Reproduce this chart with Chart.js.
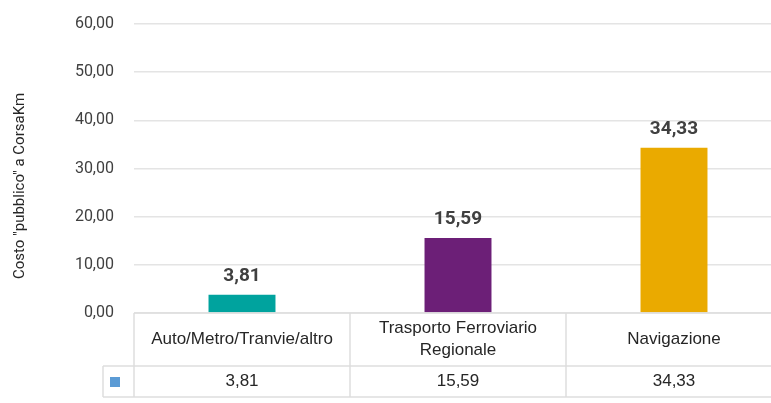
<!DOCTYPE html>
<html lang="it">
<head>
<meta charset="UTF-8">
<title>Costo pubblico a CorsaKm</title>
<script src="https://cdn.jsdelivr.net/npm/chart.js"></script>
<style>
body {
margin: 0;
overflow: hidden;
background-color: #fff;
}
#wrap {
width: 782px;
height: 403px;
}
</style>
</head>
<body>

<div id="wrap"><canvas id="costChart" width="782" height="403"></canvas></div>

<script>
// data
const categories = [['Auto/Metro/Tranvie/altro'], ['Trasporto Ferroviario', 'Regionale'], ['Navigazione']];
const costValues = [3.81, 15.59, 34.33];
const barColors = ['#00A39E', '#6C1F77', '#EAAA00'];
const yTicks = [0, 10, 20, 30, 40, 50, 60];
const axisTitle = 'Costo "pubblico" a CorsaKm';

const NARROW = "Roboto, 'Liberation Sans', sans-serif";
const REGULAR = "'Liberation Sans', Arial, sans-serif";

const formatNum = v => v.toFixed(2).replace('.', ',');

// value labels above the bars
const valueLabels = {
id: 'valueLabels',
afterDatasetsDraw(chart) {
const ctx = chart.ctx;
const meta = chart.getDatasetMeta(0);
ctx.save();
ctx.font = 'bold 19px ' + NARROW;
ctx.fillStyle = '#404040';
ctx.textAlign = 'center';
ctx.textBaseline = 'alphabetic';
meta.data.forEach((bar, i) => {
ctx.fillText(formatNum(costValues[i]), bar.x, bar.y - 14);
});
ctx.restore();
}
};

// data table under the plot + axis title
const dataTable = {
id: 'dataTable',
afterDraw(chart) {
const { ctx, chartArea } = chart;
const x = chart.scales.x;
const step = x.getPixelForValue(1) - x.getPixelForValue(0);
const top = chartArea.bottom;
const rowSplit = top + 53;
const bottom = top + 84;
const keyLeft = chartArea.left - 31;

ctx.save();
ctx.strokeStyle = '#dedede';
ctx.lineWidth = 1.5;
ctx.beginPath();
ctx.moveTo(chartArea.left, top);
ctx.lineTo(chartArea.right, top);
ctx.moveTo(keyLeft, rowSplit);
ctx.lineTo(chartArea.right, rowSplit);
ctx.moveTo(keyLeft, bottom);
ctx.lineTo(chartArea.right, bottom);
ctx.moveTo(keyLeft, rowSplit);
ctx.lineTo(keyLeft, bottom);
for (let i = 0; i <= categories.length; i++) {
const xb = x.getPixelForValue(i) - step / 2;
ctx.moveTo(xb, top);
ctx.lineTo(xb, bottom);
}
ctx.stroke();

ctx.fillStyle = '#5B9BD5';
ctx.fillRect(keyLeft + 7, rowSplit + 11, 10, 10);

ctx.fillStyle = '#262626';
ctx.textAlign = 'center';
ctx.textBaseline = 'middle';
ctx.font = '17px ' + REGULAR;
categories.forEach((lines, i) => {
const cx = x.getPixelForValue(i);
const lh = 22;
const cy = (top + rowSplit) / 2 - (lines.length - 1) * lh / 2;
lines.forEach((t, j) => ctx.fillText(t, cx, cy + j * lh));
ctx.fillText(formatNum(costValues[i]), cx, (rowSplit + bottom) / 2);
});

ctx.font = '15px ' + NARROW;
ctx.translate(20, 186);
ctx.rotate(-Math.PI / 2);
ctx.fillText(axisTitle, 0, 0);
ctx.restore();
}
};

new Chart(document.getElementById('costChart'), {
type: 'bar',
data: {
labels: categories.map(c => c.join(' ')),
datasets: [{
data: costValues,
backgroundColor: barColors,
borderWidth: 0,
categoryPercentage: 1,
barPercentage: 0.31
}]
},
options: {
responsive: false,
animation: false,
layout: {
padding: { top: 24, right: 0, bottom: 0, left: 0 }
},
plugins: {
legend: { display: false },
tooltip: { enabled: false }
},
scales: {
x: {
grid: { display: false },
border: { display: false },
ticks: { display: false },
afterFit: s => { s.height = 90; }
},
y: {
min: 0,
max: 60,
afterBuildTicks: s => { s.ticks = yTicks.map(v => ({ value: v })); },
afterFit: s => { s.width = 134; },
grid: { color: '#e4e4e4', lineWidth: 1.5, drawTicks: true, tickLength: 20, tickColor: 'rgba(0,0,0,0)' },
border: { display: false },
ticks: {
padding: 0,
color: '#404040',
font: { family: NARROW, size: 16 },
callback: v => formatNum(v)
}
}
}
},
plugins: [valueLabels, dataTable]
});
</script>

</body>
</html>
